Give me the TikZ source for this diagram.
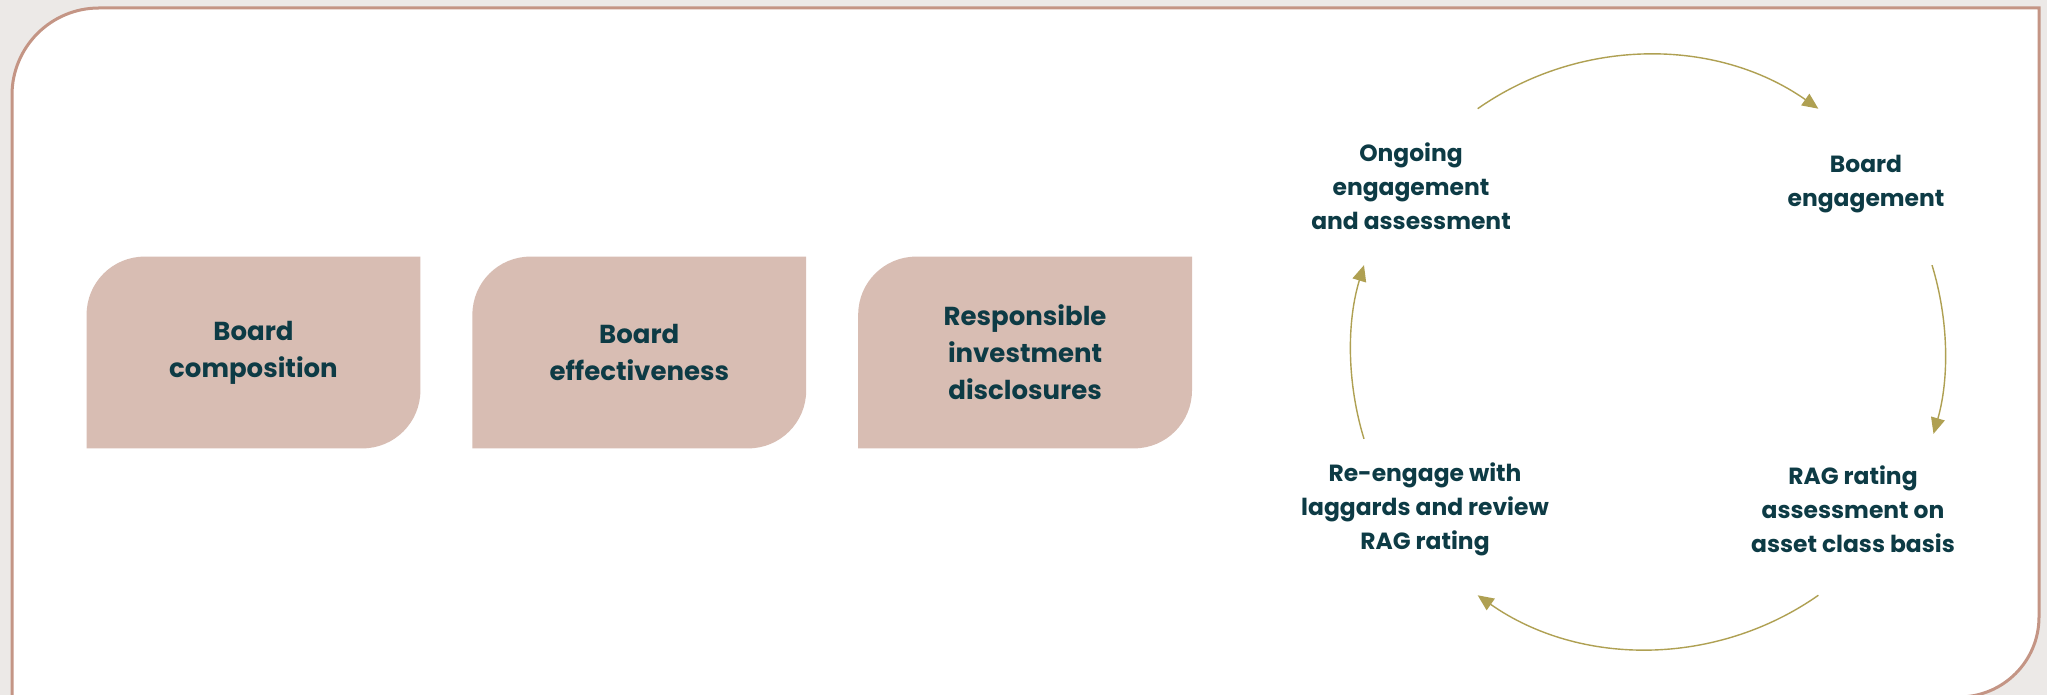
\documentclass[tikz,border=0pt]{standalone}
\usepackage{fontspec}
\setmainfont{Poppins}
\usetikzlibrary{arrows.meta,positioning,backgrounds}
\definecolor{ink}{HTML}{0D3B45}
\definecolor{leaffill}{HTML}{D8BDB3}
\definecolor{framecol}{HTML}{C49585}
\definecolor{olive}{HTML}{AFA052}
\definecolor{marble}{HTML}{ECE9E7}
\tikzset{
  basic/.style  = {text=ink, align=center},
  topic/.style  = {basic, font=\bfseries\fontsize{13}{18.5}\selectfont,
                   minimum width=166.5pt, minimum height=95.5pt, inner sep=0pt},
  stage/.style  = {basic, font=\bfseries\fontsize{11.7}{17}\selectfont},
  leaf/.style   = {fill=leaffill},
  cyc/.style    = {draw=olive, line width=0.7pt, -{Triangle[length=8pt,width=7pt]}}
}

\begin{document}
\begin{tikzpicture}[x=0.5pt,y=0.5pt]
\useasboundingbox (0,0) rectangle (2047,695);

% outer frame
\begin{pgfonlayer}{background}
\fill[marble] (0,0) rectangle (2047,695);
\draw[framecol, fill=white, line width=1.5pt] (12,-2) -- (12,600)
  arc[start angle=180, end angle=90, radius=87] -- (2039,687) -- (2039,78)
  arc[start angle=0, end angle=-90, radius=80] -- cycle;
\end{pgfonlayer}

% the three topics
\node[topic] (b1) at (253.5,342.5) {Board\\composition};
\node[topic, right=26pt of b1] (b2) {Board\\effectiveness};
\node[topic, right=26pt of b2] (b3) {Responsible\\investment\\disclosures};

\begin{pgfonlayer}{background}
\foreach \b in {b1,b2,b3}
  \fill[leaf] (\b.south west) -- ([yshift=-29pt]\b.north west)
    arc[start angle=180, end angle=90, radius=29pt] -- (\b.north east)
    -- ([yshift=29pt]\b.south east)
    arc[start angle=0, end angle=-90, radius=29pt] -- cycle;
\end{pgfonlayer}

% the cycle
\coordinate (c) at (1648,343);
\node[stage] (ongo) at (1411,509) {Ongoing\\engagement\\and assessment};
\node[stage] (beng) at (1866,510.5) {Board\\engagement};
\node[stage] (rag) at (1853,186) {RAG rating\\assessment on\\asset class basis};
\node[stage] (reng) at (1425,186) {Re-engage with\\laggards and review\\RAG rating};

\draw[cyc] ([shift={(125:297)}]c) arc[start angle=125, end angle=55, radius=297];
\draw[cyc] ([shift={(17:297)}]c) arc[start angle=17, end angle=-16, radius=297];
\draw[cyc] ([shift={(-55:297)}]c) arc[start angle=-55, end angle=-125, radius=297];
\draw[cyc] ([shift={(197:297)}]c) arc[start angle=197, end angle=163, radius=297];
\end{tikzpicture}
\end{document}
